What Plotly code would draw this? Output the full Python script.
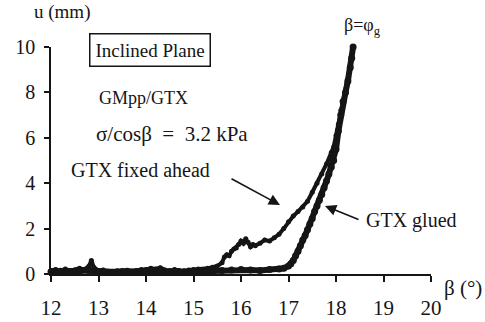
import plotly.graph_objects as go

# Data (beta in degrees, u in mm)
beta_fixed = [12.0, 12.1, 12.2, 12.3, 12.4, 12.5, 12.6, 12.7, 12.8, 12.85, 12.9, 13.0, 13.1, 13.2, 13.3,
              13.4, 13.5, 13.6, 13.7, 13.8, 13.9, 14.0, 14.1, 14.2, 14.3, 14.4, 14.5, 14.6, 14.7,
              14.8, 14.9, 15.0, 15.1, 15.2, 15.3, 15.4, 15.5, 15.6, 15.65, 15.7, 15.75, 15.8, 15.85,
              15.9, 15.95, 16.0, 16.05, 16.1, 16.15, 16.2, 16.25, 16.3, 16.4, 16.5, 16.6, 16.7,
              16.8, 16.9, 17.0, 17.1, 17.2, 17.3, 17.4, 17.5, 17.6, 17.7, 17.8, 17.9, 17.95,
              18.0, 18.05, 18.1, 18.15, 18.2, 18.25, 18.3, 18.33, 18.36]
u_fixed = [0.15, 0.2, 0.12, 0.22, 0.15, 0.18, 0.25, 0.2, 0.35, 0.6, 0.3, 0.15, 0.18, 0.12, 0.1,
           0.12, 0.15, 0.12, 0.1, 0.15, 0.2, 0.2, 0.25, 0.22, 0.28, 0.18, 0.15, 0.2, 0.15,
           0.12, 0.18, 0.2, 0.22, 0.2, 0.25, 0.3, 0.35, 0.5, 0.75, 0.85, 0.8, 1.0, 1.1,
           1.15, 1.3, 1.45, 1.35, 1.55, 1.4, 1.2, 1.3, 1.25, 1.35, 1.5, 1.45, 1.6,
           1.75, 2.0, 2.3, 2.55, 2.75, 2.95, 3.2, 3.6, 4.0, 4.4, 4.85, 5.35, 5.6,
           6.1, 6.6, 7.2, 7.6, 8.0, 8.5, 9.2, 9.6, 10.05]

beta_glued = [12.0, 12.2, 12.4, 12.6, 12.8, 13.0, 13.2, 13.4, 13.6, 13.8, 14.0, 14.2, 14.4, 14.6,
              14.8, 15.0, 15.2, 15.4, 15.6, 15.8, 16.0, 16.2, 16.4, 16.6, 16.8, 16.9, 17.0,
              17.05, 17.1, 17.15, 17.2, 17.25, 17.3, 17.35, 17.4, 17.45, 17.5, 17.55, 17.6,
              17.65, 17.7, 17.75, 17.8, 17.85, 17.9, 17.95, 18.0, 18.05, 18.1, 18.15, 18.2,
              18.25, 18.3, 18.33, 18.36]
u_glued = [0.1, 0.12, 0.08, 0.1, 0.15, 0.1, 0.08, 0.1, 0.12, 0.1, 0.1, 0.12, 0.1, 0.08,
           0.1, 0.12, 0.1, 0.12, 0.15, 0.18, 0.2, 0.18, 0.15, 0.2, 0.22, 0.25, 0.35,
           0.45, 0.6, 0.8, 1.0, 1.25, 1.5, 1.7, 1.95, 2.2, 2.45, 2.75, 3.0,
           3.25, 3.5, 3.8, 4.1, 4.4, 4.7, 5.0, 5.5, 6.3, 7.0, 7.6, 8.0,
           8.5, 9.1, 9.5, 10.0]

x_ticks = [12, 13, 14, 15, 16, 17, 18, 19, 20]
y_ticks = [0, 2, 4, 6, 8, 10]

FONT = "Liberation Serif"
INK = "#151515"

fig = go.Figure()
fig.add_trace(go.Scatter(x=beta_fixed, y=u_fixed, mode="lines+markers",
                         line=dict(color=INK, width=4), marker=dict(color=INK, size=5),
                         cliponaxis=False, showlegend=False))
fig.add_trace(go.Scatter(x=beta_glued, y=u_glued, mode="lines+markers",
                         line=dict(color=INK, width=6), marker=dict(color=INK, size=7),
                         cliponaxis=False, showlegend=False))

L, R, T, B = 51, 54, 47, 48
PW, PH = 485 - L - R, 322 - T - B


def px(xp):
    return (xp - L) / PW


def py(yp):
    return (322 - B - yp) / PH


texts = [
    ("u (mm)", 62, 12, 19),
    ("GMpp/GTX", 143, 98, 18),
    ("σ/cosβ\u2002=\u20023.2 kPa", 172, 134, 21),
    ("GTX fixed ahead", 140, 170, 20),
    ("GTX glued", 411, 220, 20),
    ("β=φ<sub>g</sub>", 362, 27, 18),
    ("β (°)", 463, 288, 21),
]
annotations = []
for t, x0, y0, s in texts:
    annotations.append(dict(text=t, x=px(x0), y=py(y0), xref="paper", yref="paper",
                            xanchor="center", yanchor="middle", showarrow=False,
                            font=dict(family=FONT, size=s, color=INK)))
annotations.append(dict(text="Inclined Plane", x=px(150), y=py(50), xref="paper", yref="paper",
                        xanchor="center", yanchor="middle", showarrow=False,
                        bordercolor=INK, borderwidth=1.5, borderpad=5,
                        font=dict(family=FONT, size=19, color=INK)))
# arrows
annotations.append(dict(text="", x=px(280), y=py(205), xref="paper", yref="paper",
                        showarrow=True, ax=-50, ay=-27, arrowhead=2, arrowsize=1.4,
                        arrowwidth=1.6, arrowcolor=INK))
annotations.append(dict(text="", x=px(325), y=py(206), xref="paper", yref="paper",
                        showarrow=True, ax=35, ay=14, arrowhead=2, arrowsize=1.4,
                        arrowwidth=1.6, arrowcolor=INK))

fig.update_layout(
    width=485, height=322,
    margin=dict(l=L, r=R, t=T, b=B),
    paper_bgcolor="white", plot_bgcolor="white",
    font=dict(family=FONT, color=INK),
    annotations=annotations,
    xaxis=dict(range=[12, 20], tickvals=x_ticks, showgrid=False, zeroline=False,
               showline=True, linecolor=INK, linewidth=1.5, ticks="outside", ticklen=6,
               tickcolor=INK, tickwidth=1.5, ticklabelstandoff=8, automargin=False,
               tickfont=dict(family=FONT, size=21, color=INK)),
    yaxis=dict(range=[0, 10], tickvals=y_ticks, showgrid=False, zeroline=False,
               showline=True, linecolor=INK, linewidth=1.5, ticks="outside", ticklen=5,
               tickcolor=INK, tickwidth=1.5, ticklabelstandoff=5, automargin=False,
               tickfont=dict(family=FONT, size=20, color=INK)),
)

fig.write_html("out.html")
